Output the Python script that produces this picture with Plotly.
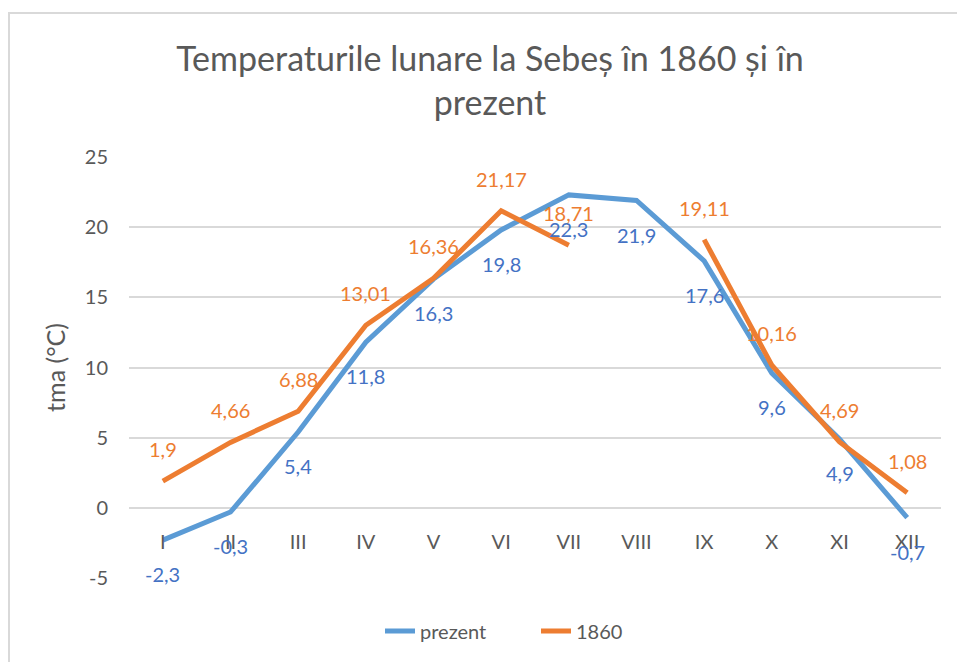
import plotly.graph_objects as go

months = ["I", "II", "III", "IV", "V", "VI", "VII", "VIII", "IX", "X", "XI", "XII"]
prezent = [-2.3, -0.3, 5.4, 11.8, 16.3, 19.8, 22.3, 21.9, 17.6, 9.6, 4.9, -0.7]
an1860 = [1.9, 4.66, 6.88, 13.01, 16.36, 21.17, 18.71, None, 19.11, 10.16, 4.69, 1.08]
y_ticks = [-5, 0, 5, 10, 15, 20, 25]
y_tick_text = ["-5", "0", "5", "10", "15", "20", "25"]

BLUE = "#5B9BD5"
ORANGE = "#ED7D31"
BLUE_LBL = "#4472C4"
GRAY = "#595959"
GRID = "#D9D9D9"
FONT = "Lato"

W, H = 957, 662
L, R, T, B = 129, 16, 157, 84
pw = W - L - R
ph = H - T - B


def fmt(v):
    return str(v).replace(".", ",")


fig = go.Figure()
fig.add_trace(go.Scatter(x=months, y=prezent, mode="lines", name="prezent",
                         line=dict(color=BLUE, width=5)))
fig.add_trace(go.Scatter(x=months, y=an1860, mode="lines", name="1860",
                         line=dict(color=ORANGE, width=5), connectgaps=False))

annotations = []
for m, v in zip(months, prezent):
    annotations.append(dict(x=m, y=v, xref="x", yref="y", text=fmt(v), showarrow=False,
                            yshift=-34, font=dict(family=FONT, size=20, color=BLUE_LBL)))
for m, v in zip(months, an1860):
    if v is None:
        continue
    annotations.append(dict(x=m, y=v, xref="x", yref="y", text=fmt(v), showarrow=False,
                            yshift=32, font=dict(family=FONT, size=20, color=ORANGE)))

ymin, ymax = -5, 25
zero_pos = (0 - ymin) / (ymax - ymin)

fig.update_layout(
    template="none",
    width=W, height=H, autosize=False,
    margin=dict(l=L, r=R, t=T, b=B, pad=0),
    paper_bgcolor="white", plot_bgcolor="white",
    font=dict(family=FONT, color=GRAY, size=20),
    title=dict(text="Temperaturile lunare la Sebeș în 1860 și în<br>prezent",
               x=490 / W, xanchor="center", xref="container",
               y=1 - 71 / H, yanchor="top", yref="container",
               font=dict(family=FONT, size=34, color=GRAY)),
    xaxis=dict(type="category", categoryorder="array", categoryarray=months,
               range=[-0.5, 11.5], anchor="free", position=zero_pos,
               showgrid=False, zeroline=False, showline=False, ticks="",
               automargin=False, ticklabelstandoff=20,
               tickfont=dict(family=FONT, size=20, color=GRAY)),
    yaxis=dict(range=[ymin, ymax], tickvals=y_ticks, ticktext=y_tick_text,
               showgrid=True, gridcolor=GRID,
               gridwidth=1.5, zeroline=False, showline=False, ticks="",
               automargin=False, ticklabelstandoff=20,
               tickfont=dict(family=FONT, size=20, color=GRAY),
               title_text="tma (°C)", title_standoff=12,
               title_font=dict(family=FONT, size=25, color=GRAY)),
    legend=dict(orientation="h", x=(380 - L) / pw, xanchor="left",
                y=(ph + T - 631) / ph, yanchor="middle",
                entrywidth=111, entrywidthmode="pixels",
                font=dict(family=FONT, size=20, color=GRAY),
                bgcolor="rgba(0,0,0,0)"),
    annotations=annotations,
    shapes=[dict(type="rect", xref="paper", yref="paper",
                 x0=(9 - L) / pw, x1=(W + 5 - L) / pw,
                 y0=(ph + T - (H + 5)) / ph, y1=(ph + T - 13) / ph,
                 line=dict(color=GRID, width=2), fillcolor="rgba(0,0,0,0)", layer="below")],
)

fig.write_html("out.html", config={"displayModeBar": False},
               post_script="document.body.style.margin='0px';document.body.style.overflow='hidden';")
